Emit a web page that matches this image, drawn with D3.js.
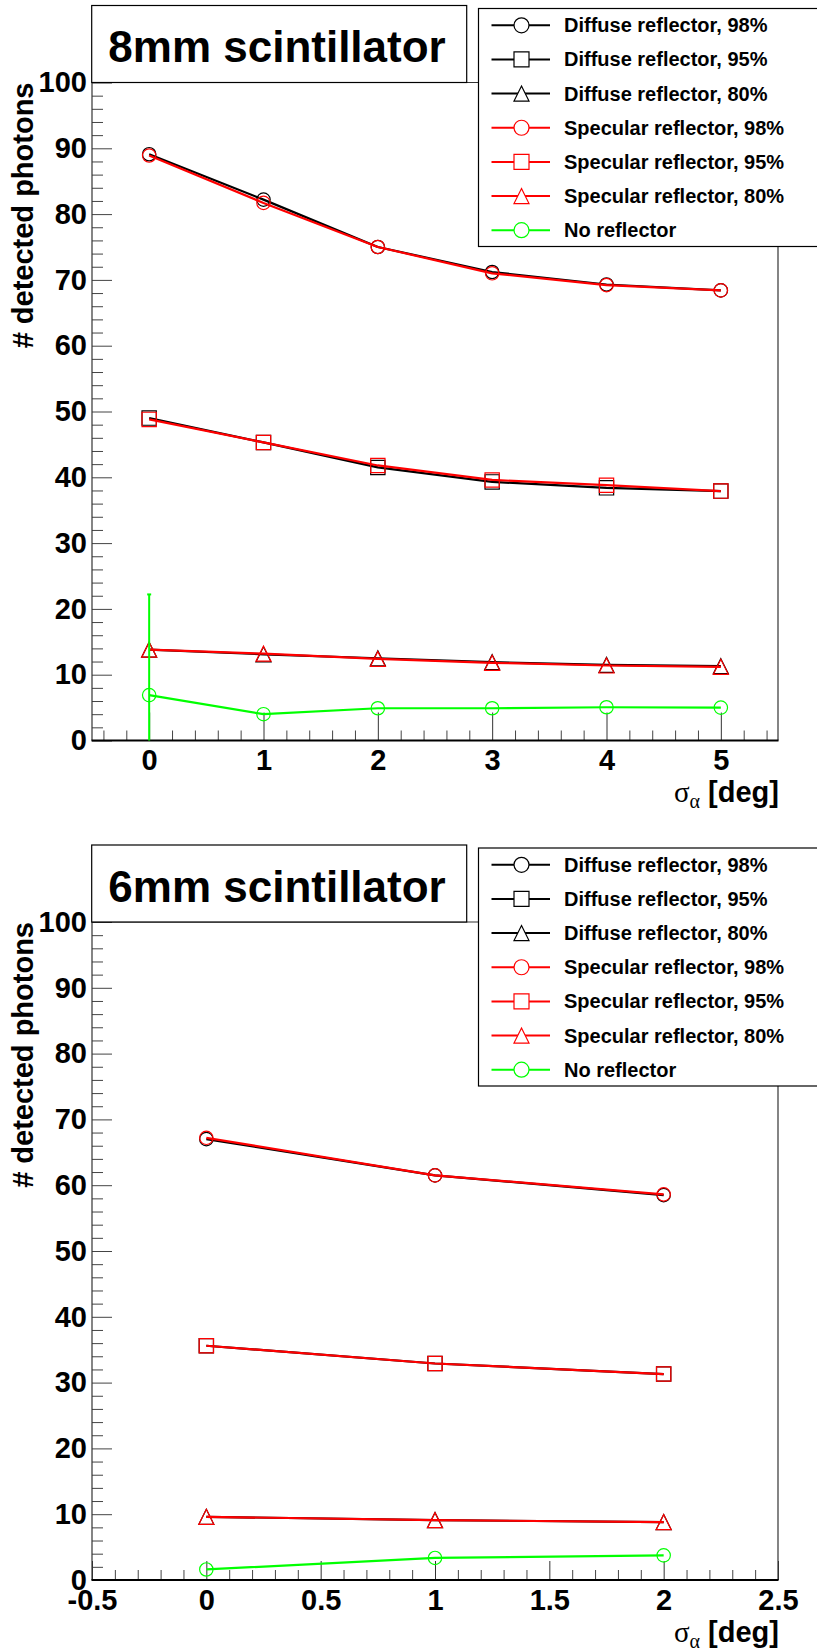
<!DOCTYPE html>
<html>
<head>
<meta charset="utf-8">
<script src="https://cdn.jsdelivr.net/npm/d3@7"></script>
<style>
  html, body { margin: 0; padding: 0; background: #fff; }
  svg { display: block; }
  text { font-family: "Liberation Sans", Arial, Helvetica, sans-serif; font-weight: bold; }
</style>
</head>
<body>
<svg id="chart" width="817" height="1650"></svg>
<script>
// ---------------- DATA ----------------
const titles = ["8mm scintillator", "6mm scintillator"];
const xTitle = "[deg]";
const yTitle = "# detected photons";

const legendLabels = [
  "Diffuse reflector, 98%",
  "Diffuse reflector, 95%",
  "Diffuse reflector, 80%",
  "Specular reflector, 98%",
  "Specular reflector, 95%",
  "Specular reflector, 80%",
  "No reflector"
];

// 8mm scintillator
const sigma8 = [0, 1, 2, 3, 4, 5];
const diffuse98_8 = [89.1, 82.2, 75.0, 71.2, 69.3, 68.4];
const diffuse95_8 = [49.0, 45.3, 41.5, 39.3, 38.4, 37.9];
const diffuse80_8 = [13.8, 13.1, 12.5, 11.9, 11.5, 11.3];
const specular98_8 = [88.9, 81.7, 75.0, 71.0, 69.2, 68.4];
const specular95_8 = [48.8, 45.3, 41.8, 39.6, 38.8, 37.9];
const specular80_8 = [13.8, 13.2, 12.4, 11.8, 11.4, 11.2];
const noReflector_8 = [6.9, 4.0, 4.9, 4.9, 5.05, 5.0];
const noReflectorErr_8 = [15.3, 0, 0, 0, 0, 0];

// 6mm scintillator
const sigma6 = [0, 1, 2];
const diffuse98_6 = [67.0, 61.5, 58.5];
const diffuse95_6 = [35.6, 32.9, 31.3];
const diffuse80_6 = [9.6, 9.1, 8.8];
const specular98_6 = [67.2, 61.5, 58.6];
const specular95_6 = [35.6, 32.9, 31.3];
const specular80_6 = [9.6, 9.1, 8.8];
const noReflector_6 = [1.6, 3.35, 3.75];
const noReflectorErr_6 = [0, 0, 0];

// tick values
const yMajorTicks = [0, 10, 20, 30, 40, 50, 60, 70, 80, 90, 100];
const xMajorTicks8 = [0, 1, 2, 3, 4, 5];
const xMajorTicks6 = [-0.5, 0, 0.5, 1, 1.5, 2, 2.5];

// ---------------- STYLE ----------------
const seriesStyle = [
  { color: "#000000", shape: "circle" },
  { color: "#000000", shape: "square" },
  { color: "#000000", shape: "triangle" },
  { color: "#ff0000", shape: "circle" },
  { color: "#ff0000", shape: "square" },
  { color: "#ff0000", shape: "triangle" },
  { color: "#00ff00", shape: "circle" }
];

const svg = d3.select("#chart");
svg.append("rect").attr("width", 817).attr("height", 1650).attr("fill", "#fff");

function markerPath(shape, cx, cy, s) {
  if (shape === "square") {
    const h = s / 2;
    return `M${cx - h},${cy - h}H${cx + h}V${cy + h}H${cx - h}Z`;
  }
  if (shape === "triangle") {
    const h = s / 2;
    return `M${cx},${cy - h}L${cx + h},${cy + h}L${cx - h},${cy + h}Z`;
  }
  const r = s / 2;
  return `M${cx - r},${cy}A${r},${r} 0 1,0 ${cx + r},${cy}A${r},${r} 0 1,0 ${cx - r},${cy}Z`;
}

function drawPanel(offsetY, cfg) {
  const g = svg.append("g").attr("transform", `translate(0,${offsetY})`);
  const left = 92, right = 778, top = 82.5, bottom = 740.5;

  const x = d3.scaleLinear().domain(cfg.xDomain).range([left, right]);
  const y = d3.scaleLinear().domain([0, 100]).range([bottom, top]);

  const yMinor = d3.range(0, 101, 2).filter(v => v % 10 !== 0);
  const xMinor = cfg.xMinor;

  const yAxisMajor = d3.axisLeft(y).tickValues(yMajorTicks).tickSizeInner(-20).tickSizeOuter(0)
    .tickPadding(5).tickFormat(d => String(d));
  const ya = g.append("g").attr("transform", `translate(${left},0)`).call(yAxisMajor);
  ya.select(".domain").remove();
  ya.selectAll("line").attr("stroke", "#444");
  ya.selectAll("text").attr("font-size", 29).attr("fill", "#000")
    .attr("font-family", "'Liberation Sans', Arial, sans-serif").attr("font-weight", "bold");

  const yAxisMinor = d3.axisLeft(y).tickValues(yMinor).tickSizeInner(-11).tickSizeOuter(0).tickFormat("");
  const yam = g.append("g").attr("transform", `translate(${left},0)`).call(yAxisMinor);
  yam.select(".domain").remove();
  yam.selectAll("line").attr("stroke", "#444");

  const xAxisMajor = d3.axisBottom(x).tickValues(cfg.xMajor).tickSizeInner(-cfg.xMajorLen).tickSizeOuter(0)
    .tickPadding(9).tickFormat(d => String(d));
  const xa = g.append("g").attr("transform", `translate(0,${bottom})`).call(xAxisMajor);
  xa.select(".domain").remove();
  xa.selectAll("line").attr("stroke", "#333");
  xa.selectAll("text").attr("font-size", 29).attr("fill", "#000")
    .attr("font-family", "'Liberation Sans', Arial, sans-serif").attr("font-weight", "bold");

  const xAxisMinor = d3.axisBottom(x).tickValues(xMinor).tickSizeInner(-10).tickSizeOuter(0).tickFormat("");
  const xam = g.append("g").attr("transform", `translate(0,${bottom})`).call(xAxisMinor);
  xam.select(".domain").remove();
  xam.selectAll("line").attr("stroke", "#444");

  g.append("line").attr("x1", left).attr("x2", left).attr("y1", top).attr("y2", bottom)
    .attr("stroke", "#333").attr("stroke-width", 1.2);
  g.append("line").attr("x1", right).attr("x2", right).attr("y1", top).attr("y2", bottom)
    .attr("stroke", "#333").attr("stroke-width", 1.2);
  g.append("line").attr("x1", left).attr("x2", right).attr("y1", top).attr("y2", top)
    .attr("stroke", "#333").attr("stroke-width", 1.2);
  g.append("line").attr("x1", left - 0.5).attr("x2", right + 0.5).attr("y1", bottom).attr("y2", bottom)
    .attr("stroke", "#000").attr("stroke-width", 2.2);

  const line = d3.line().x(d => x(d[0])).y(d => y(d[1]));
  cfg.series.forEach((vals, i) => {
    const st = seriesStyle[i];
    const pts = cfg.xs.map((xv, j) => [xv, vals[j]]);
    g.append("path").attr("d", line(pts)).attr("fill", "none")
      .attr("stroke", st.color).attr("stroke-width", 2.2).attr("stroke-linejoin", "round");
    const sz = st.shape === "circle" ? 13.4 : (st.shape === "square" ? 14.3 : 15);
    g.selectAll(null).data(pts).enter().append("path")
      .attr("d", d => markerPath(st.shape, x(d[0]), y(d[1]), sz))
      .attr("fill", "none").attr("stroke", st.color).attr("stroke-width", 1.2);
  });

  const errPts = cfg.xs.map((xv, j) => ({ x: xv, v: cfg.series[6][j], e: cfg.err[j] })).filter(d => d.e > 0);
  errPts.forEach(d => {
    const lo = Math.max(0, d.v - d.e), hi = Math.min(100, d.v + d.e);
    g.append("line").attr("x1", x(d.x)).attr("x2", x(d.x)).attr("y1", y(lo)).attr("y2", y(hi))
      .attr("stroke", seriesStyle[6].color).attr("stroke-width", 2);
    g.append("line").attr("x1", x(d.x) - 2).attr("x2", x(d.x) + 2).attr("y1", y(hi)).attr("y2", y(hi))
      .attr("stroke", seriesStyle[6].color).attr("stroke-width", 2);
  });

  const xt = g.append("text").attr("x", right + 1).attr("y", 802).attr("text-anchor", "end")
    .attr("font-size", 29).attr("fill", "#000");
  xt.append("tspan").attr("font-family", "'Liberation Serif', 'Times New Roman', serif")
    .attr("font-weight", "normal").text("σ");
  xt.append("tspan").attr("font-family", "'Liberation Serif', 'Times New Roman', serif")
    .attr("font-weight", "normal").attr("font-size", 20).attr("dy", 6).text("α");
  xt.append("tspan").attr("dy", -6).text(" " + xTitle);

  g.append("text").attr("transform", `translate(33,${top}) rotate(-90)`).attr("text-anchor", "end")
    .attr("font-size", 29).attr("fill", "#000").text(yTitle);

  g.append("rect").attr("x", 91.7).attr("y", 5.5).attr("width", 375).attr("height", 77)
    .attr("fill", "#fff").attr("stroke", "#000").attr("stroke-width", 1.2);
  g.append("text").attr("x", 277).attr("y", 62).attr("text-anchor", "middle")
    .attr("font-size", 44).attr("fill", "#000").text(cfg.title);

  const lg = g.append("g");
  lg.append("rect").attr("x", 478.5).attr("y", 8.5).attr("width", 360).attr("height", 238)
    .attr("fill", "#fff").attr("stroke", "#000").attr("stroke-width", 1.2);
  legendLabels.forEach((lab, i) => {
    const cy = 25.3 + i * 34.15;
    const st = seriesStyle[i];
    lg.append("line").attr("x1", 491.5).attr("x2", 550).attr("y1", cy).attr("y2", cy)
      .attr("stroke", st.color).attr("stroke-width", 2);
    lg.append("path").attr("d", markerPath(st.shape, 521.5, cy, 15))
      .attr("fill", "#fff").attr("stroke", st.color).attr("stroke-width", 1.2);
    lg.append("text").attr("x", 564).attr("y", cy + 7).attr("font-size", 20).attr("fill", "#000").text(lab);
  });
}

const xMinor8 = d3.range(-0.4, 5.5, 0.2).map(v => Math.round(v * 10) / 10)
  .filter(v => Math.abs(v - Math.round(v)) > 1e-6);
const xMinor6 = d3.range(-0.4, 2.5, 0.1).map(v => Math.round(v * 10) / 10)
  .filter(v => Math.abs(v * 2 - Math.round(v * 2)) > 1e-6);

drawPanel(0, {
  title: titles[0],
  xDomain: [-0.5, 5.5],
  xMajor: xMajorTicks8,
  xMinor: xMinor8,
  xMajorLen: 28,
  xs: sigma8,
  series: [diffuse98_8, diffuse95_8, diffuse80_8, specular98_8, specular95_8, specular80_8, noReflector_8],
  err: noReflectorErr_8
});

drawPanel(839.5, {
  title: titles[1],
  xDomain: [-0.5, 2.5],
  xMajor: xMajorTicks6,
  xMinor: xMinor6,
  xMajorLen: 19,
  xs: sigma6,
  series: [diffuse98_6, diffuse95_6, diffuse80_6, specular98_6, specular95_6, specular80_6, noReflector_6],
  err: noReflectorErr_6
});
</script>
</body>
</html>
